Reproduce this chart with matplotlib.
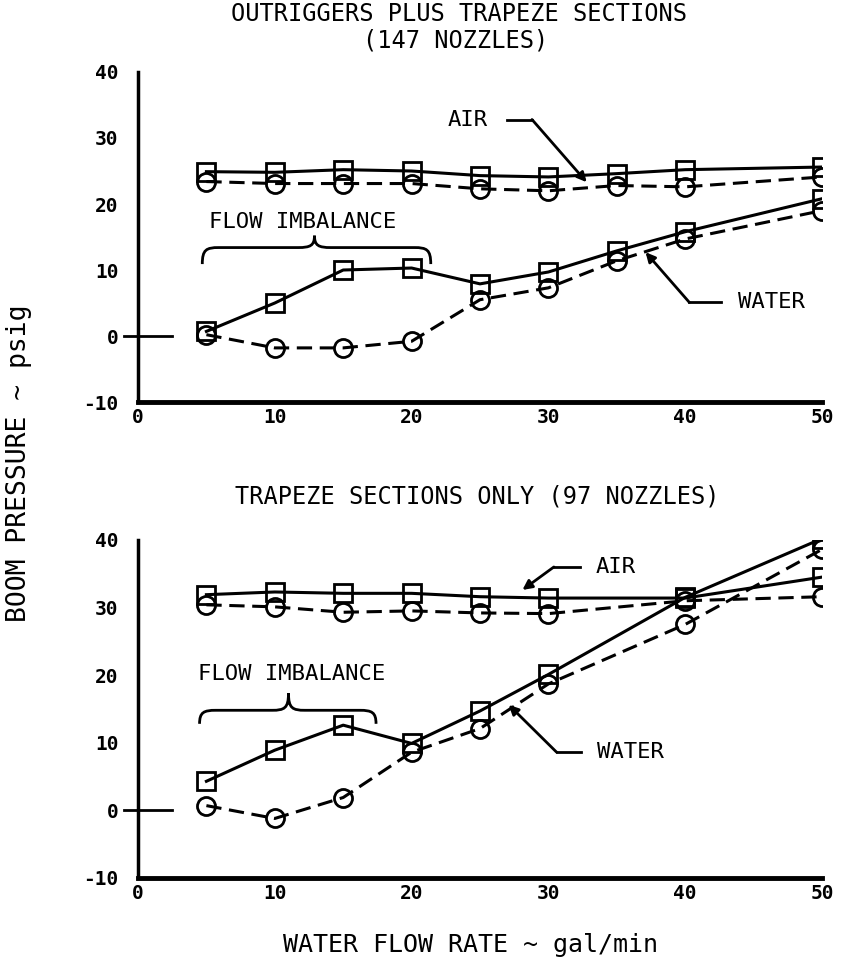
import matplotlib.pyplot as plt
import matplotlib.patches as mpatches
from matplotlib.path import Path
import numpy as np

plt.rcParams['font.family'] = ['DejaVu Sans Mono', 'DejaVu Sans']
plt.rcParams['axes.unicode_minus'] = False

# data
flow_top = [5, 10, 15, 20, 25, 30, 35, 40, 50]
air_sq_top = [24.9, 24.8, 25.2, 25.0, 24.3, 24.1, 24.6, 25.2, 25.6]
air_ci_top = [23.4, 23.1, 23.1, 23.1, 22.3, 22.0, 22.8, 22.6, 24.1]
water_sq_top = [0.7, 5.0, 10.0, 10.3, 7.9, 9.7, 12.9, 15.8, 20.8]
water_ci_top = [0.2, -1.8, -1.8, -0.8, 5.5, 7.3, 11.4, 14.7, 19.0]

flow_bot = [5, 10, 15, 20, 25, 30, 40, 50]
air_sq_bot = [31.9, 32.3, 32.1, 32.1, 31.6, 31.4, 31.4, 34.5]
air_ci_bot = [30.4, 30.1, 29.3, 29.5, 29.2, 29.1, 31.0, 31.6]
water_sq_bot = [4.3, 8.9, 12.6, 9.9, 14.7, 20.1, 31.5, 40.2]
water_ci_bot = [0.7, -1.2, 1.9, 8.6, 12.1, 18.7, 27.5, 38.6]

yticks = [-10, 0, 10, 20, 30, 40]
xticks = [0, 10, 20, 30, 40, 50]

FS = 16
TFS = 14
lw = 2.2
dash = (0, (5, 2.5))


def brace(ax, x0, x1, xm, y, d_end, d_tip):
    w = 1.2
    verts = [(x0, y - d_end), (x0, y - 0.3), (x0 + 0.3, y), (x0 + w, y),
             (xm - w, y), (xm - 0.3, y), (xm, y + 0.3), (xm, y + d_tip),
             (xm, y + 0.3), (xm + 0.3, y), (xm + w, y),
             (x1 - w, y), (x1 - 0.3, y), (x1, y - 0.3), (x1, y - d_end)]
    codes = [Path.MOVETO, Path.CURVE4, Path.CURVE4, Path.CURVE4,
             Path.LINETO, Path.CURVE4, Path.CURVE4, Path.CURVE4,
             Path.CURVE4, Path.CURVE4, Path.CURVE4,
             Path.LINETO, Path.CURVE4, Path.CURVE4, Path.CURVE4]
    ax.add_patch(mpatches.PathPatch(Path(verts, codes), fill=False, lw=2.0, color='black'))


def label_arrow(ax, text, tx, ty, x0, x1, tipx, tipy):
    ax.text(tx, ty, text, ha='center', va='center', fontsize=FS)
    ax.plot([x0, x1], [ty, ty], color='black', lw=2.0)
    ax.annotate('', xy=(tipx, tipy), xytext=(x1, ty),
                arrowprops=dict(arrowstyle='-|>', color='black', lw=2.0,
                                mutation_scale=14, shrinkA=0, shrinkB=0))


def panel(ax, flow, a_sq, a_ci, w_sq, w_ci):
    mk = dict(markersize=13, markerfacecolor='none', markeredgecolor='black',
              markeredgewidth=2.0, color='black')
    ax.plot(flow, a_sq, '-', marker='s', lw=lw, **mk)
    ax.plot(flow, a_ci, linestyle=dash, marker='o', lw=lw, **mk)
    ax.plot(flow, w_sq, '-', marker='s', lw=lw, **mk)
    ax.plot(flow, w_ci, linestyle=dash, marker='o', lw=lw, **mk)
    ax.plot([-1.0, 2.5], [0, 0], color='black', lw=2.0, clip_on=False)
    ax.set_xlim(0, 50)
    ax.set_ylim(-10, 40)
    ax.set_xticks(xticks)
    ax.set_yticks(yticks)
    ax.tick_params(axis='x', length=0, pad=4, labelsize=TFS)
    ax.tick_params(axis='y', length=0, pad=14, labelsize=TFS)
    for lab in ax.get_xticklabels() + ax.get_yticklabels():
        lab.set_fontweight('bold')
    for s in ['top', 'right']:
        ax.spines[s].set_visible(False)
    ax.spines['left'].set_linewidth(2.5)
    ax.spines['bottom'].set_linewidth(3.5)


fig = plt.figure(figsize=(8.43, 9.65), dpi=100)
ax1 = fig.add_axes([0.1637, 0.5834, 0.8114, 0.342])
ax2 = fig.add_axes([0.1637, 0.0902, 0.8114, 0.3503])

panel(ax1, flow_top, air_sq_top, air_ci_top, water_sq_top, water_ci_top)
panel(ax2, flow_bot, air_sq_bot, air_ci_bot, water_sq_bot, water_ci_bot)

label_arrow(ax1, 'AIR', 24.1, 32.8, 27.0, 28.8, 32.8, 23.3)
label_arrow(ax1, 'WATER', 46.3, 5.1, 42.6, 40.3, 37.1, 12.7)
ax1.text(12.0, 17.2, 'FLOW IMBALANCE', ha='center', va='center', fontsize=FS)
brace(ax1, 4.7, 21.4, 12.9, 13.4, 2.5, 1.8)

label_arrow(ax2, 'AIR', 34.9, 36.0, 32.3, 30.4, 28.1, 32.6)
label_arrow(ax2, 'WATER', 36.0, 8.6, 32.4, 30.6, 27.1, 15.6)
ax2.text(11.2, 20.2, 'FLOW IMBALANCE', ha='center', va='center', fontsize=FS)
brace(ax2, 4.5, 17.4, 11.0, 14.8, 2.0, 2.5)

fig.text(0.545, 0.985, 'OUTRIGGERS PLUS TRAPEZE SECTIONS', ha='center', va='center', fontsize=17)
fig.text(0.541, 0.958, '(147 NOZZLES)', ha='center', va='center', fontsize=17)
fig.text(0.566, 0.485, 'TRAPEZE SECTIONS ONLY (97 NOZZLES)', ha='center', va='center', fontsize=17)
fig.text(0.558, 0.021, 'WATER FLOW RATE ~ gal/min', ha='center', va='center', fontsize=18)
fig.text(0.022, 0.52, 'BOOM PRESSURE ~ psig', ha='center', va='center', rotation=90, fontsize=19)

fig.savefig('out.png', dpi=100)
